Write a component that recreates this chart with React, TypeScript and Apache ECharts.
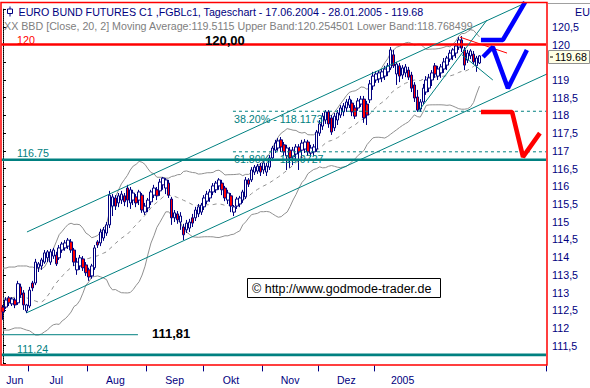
import React, { useEffect, useRef } from "react";
import * as echarts from "echarts";

// ---------- data ----------
// daily candles 17.06.2004 - 28.01.2005: [open, close, low, high]
const ohlc: number[][] = [
  [112.59, 112.45, 112.23, 112.65], [112.59, 112.79, 112.54, 112.87], [112.85, 112.71, 112.62, 112.90], [112.68, 112.82, 112.62, 112.87],
  [112.79, 112.65, 112.56, 112.85], [112.71, 113.25, 112.65, 113.33], [113.16, 112.93, 112.85, 113.25], [112.99, 112.65, 112.51, 113.07],
  [112.48, 112.65, 112.42, 112.68], [112.62, 113.07, 112.56, 113.16], [113.27, 113.13, 113.04, 113.33], [113.27, 113.86, 113.21, 113.95],
  [113.70, 113.81, 113.58, 113.86], [113.75, 113.92, 113.64, 113.98], [113.86, 114.12, 113.81, 114.20], [113.98, 114.15, 113.86, 114.20],
  [113.86, 114.15, 113.78, 114.23], [114.03, 114.20, 113.95, 114.26], [114.06, 113.81, 113.75, 114.15], [113.98, 114.26, 113.92, 114.34],
  [114.20, 114.37, 114.12, 114.43], [114.26, 114.40, 114.18, 114.48], [114.31, 114.48, 114.23, 114.54], [114.43, 114.20, 114.12, 114.51],
  [114.20, 113.86, 113.75, 114.26], [113.64, 113.86, 113.50, 113.98], [113.75, 113.98, 113.64, 114.06], [113.95, 113.70, 113.61, 114.03],
  [113.78, 113.56, 113.47, 113.86], [113.64, 113.44, 113.33, 113.70], [113.47, 113.75, 113.39, 113.81], [113.70, 114.26, 113.64, 114.34],
  [114.43, 114.34, 114.26, 114.48], [114.40, 114.71, 114.31, 114.80], [114.54, 114.77, 114.46, 114.85], [114.68, 114.91, 114.60, 114.99],
  [114.91, 115.75, 114.82, 115.87], [115.44, 115.70, 115.16, 115.78], [115.67, 115.44, 115.33, 115.75], [115.53, 115.73, 115.41, 115.81],
  [115.61, 115.78, 115.50, 115.87], [115.73, 115.56, 115.44, 115.81], [115.95, 115.61, 115.41, 116.04], [115.53, 115.90, 115.36, 115.98],
  [115.61, 115.81, 115.47, 115.90], [115.70, 115.53, 115.41, 115.78], [115.61, 115.84, 115.47, 115.90], [115.75, 115.33, 115.25, 115.81],
  [115.27, 115.44, 115.19, 115.53], [115.39, 115.61, 115.27, 115.67], [115.56, 115.84, 115.47, 115.90], [115.75, 115.95, 115.67, 116.04],
  [115.90, 115.73, 115.61, 115.98], [115.87, 116.12, 115.73, 116.21], [116.04, 116.23, 115.90, 116.26], [115.95, 116.18, 115.78, 116.23],
  [116.09, 115.75, 115.67, 116.18], [115.64, 115.11, 114.91, 115.70], [115.11, 115.25, 114.99, 115.33], [115.22, 115.05, 114.94, 115.30],
  [114.99, 115.16, 114.77, 115.27], [114.85, 114.63, 114.48, 114.94], [114.77, 114.96, 114.68, 115.05], [114.82, 114.99, 114.71, 115.08],
  [115.11, 114.96, 114.85, 115.22], [115.11, 115.33, 115.02, 115.42], [115.22, 115.42, 115.13, 115.50], [115.27, 115.47, 115.19, 115.53],
  [115.42, 115.67, 115.33, 115.75], [115.58, 115.78, 115.50, 115.87], [115.67, 115.84, 115.56, 115.92], [115.84, 116.01, 115.75, 116.09],
  [115.90, 116.09, 115.81, 116.15], [116.01, 116.18, 115.90, 116.23], [116.09, 115.90, 115.75, 116.18], [115.95, 115.67, 115.58, 116.01],
  [115.61, 115.81, 115.50, 115.90], [115.73, 115.44, 115.27, 115.81], [115.27, 115.42, 115.16, 115.47], [115.44, 115.64, 115.36, 115.70],
  [115.50, 115.67, 115.41, 115.73], [115.61, 115.84, 115.53, 115.90], [115.70, 116.18, 115.64, 116.26], [116.18, 116.06, 115.98, 116.23],
  [116.18, 116.46, 116.12, 116.54], [116.40, 116.54, 116.32, 116.60], [116.43, 116.57, 116.35, 116.63], [116.57, 116.40, 116.29, 116.66],
  [116.46, 116.66, 116.35, 116.71], [116.40, 116.57, 116.29, 116.66], [116.54, 116.80, 116.46, 116.88], [116.80, 117.08, 116.71, 117.14],
  [117.02, 117.22, 116.94, 117.31], [117.08, 117.28, 117.00, 117.36], [117.31, 117.11, 116.97, 117.39], [117.17, 116.97, 116.86, 117.25],
  [116.86, 117.08, 116.46, 117.17], [117.02, 116.80, 116.52, 117.11], [116.83, 117.02, 116.60, 117.11], [116.91, 117.11, 116.74, 117.19],
  [117.11, 116.97, 116.46, 117.19], [117.02, 117.22, 116.80, 117.31], [117.05, 117.25, 116.94, 117.33], [117.25, 116.97, 116.86, 117.31],
  [116.94, 117.08, 116.83, 117.17], [116.97, 117.11, 116.86, 117.19], [117.05, 117.53, 116.97, 117.59], [117.50, 117.76, 117.42, 117.87],
  [117.70, 117.98, 117.59, 118.07], [117.87, 118.10, 117.76, 118.15], [118.10, 117.76, 117.65, 118.15], [117.93, 117.53, 117.45, 118.01],
  [117.65, 117.98, 117.56, 118.07], [117.87, 118.07, 117.73, 118.15], [118.01, 118.21, 117.93, 118.29], [118.10, 118.27, 117.98, 118.35],
  [118.21, 118.38, 118.10, 118.46], [118.29, 118.46, 118.21, 118.55], [118.35, 118.10, 117.98, 118.44], [118.21, 117.98, 117.90, 118.29],
  [118.21, 118.41, 118.13, 118.49], [118.32, 118.46, 118.24, 118.55], [118.46, 117.93, 117.79, 118.55], [118.32, 118.01, 117.73, 118.41],
  [118.44, 118.89, 118.35, 119.00], [118.83, 119.11, 118.72, 119.23], [119.00, 119.17, 118.92, 119.25], [119.03, 119.20, 118.92, 119.28],
  [119.06, 119.23, 118.94, 119.31], [119.11, 119.31, 119.00, 119.40], [119.23, 119.40, 119.11, 119.48], [119.34, 119.85, 119.28, 119.93],
  [119.71, 119.40, 119.34, 119.85], [119.17, 119.45, 118.86, 119.51], [119.40, 119.11, 118.94, 119.48], [119.14, 119.34, 119.03, 119.42],
  [119.20, 119.37, 119.08, 119.45], [119.28, 119.08, 119.00, 119.37], [119.14, 118.77, 118.66, 119.23], [118.86, 118.49, 118.38, 118.94],
  [118.52, 118.15, 118.10, 118.72], [118.18, 118.38, 118.10, 118.46], [118.38, 118.77, 118.32, 118.89], [118.66, 119.00, 118.58, 119.11],
  [118.77, 119.06, 118.66, 119.17], [119.00, 119.20, 118.83, 119.28], [119.40, 119.17, 119.06, 119.48], [119.11, 119.31, 119.00, 119.40],
  [119.20, 119.37, 119.06, 119.45], [119.31, 119.51, 119.20, 119.62], [119.42, 119.62, 119.28, 119.68], [119.59, 119.76, 119.51, 119.85],
  [119.68, 119.85, 119.56, 119.90], [119.76, 119.96, 119.62, 120.04], [119.93, 120.13, 119.85, 120.21], [120.13, 119.90, 119.79, 120.24],
  [119.85, 119.42, 119.28, 119.93], [119.56, 119.76, 119.48, 119.85], [119.68, 119.82, 119.59, 119.87], [119.73, 119.51, 119.45, 119.82],
  [119.40, 119.62, 119.23, 119.68], [119.48, 119.68, 119.45, 119.70],
];

// Bollinger band values before a full 20-day window is visible
const earlyUpper = [113.69, 113.69, 113.72, 113.72, 113.72, 113.75, 113.75, 113.75, 113.75, 113.72, 113.72, 113.69, 113.67, 113.67, 113.72, 113.86, 114.03, 114.23, 114.43];
const earlyMid = [112.82, 112.82, 112.85, 112.85, 112.87, 112.87, 112.87, 112.87, 112.85, 112.82, 112.79, 112.76, 112.73, 112.73, 112.79, 112.90, 113.01, 113.16, 113.27];
const earlyLower = [111.94, 111.94, 111.94, 111.97, 112.00, 112.00, 112.00, 111.97, 111.94, 111.92, 111.86, 111.80, 111.80, 111.83, 111.89, 111.94, 112.03, 112.09, 112.11];

const bbPeriod = 20;
const bbDev = 2;

// x axis: month names and the bar slots where they sit
const monthLabels = ["Jun", "Jul", "Aug", "Sep", "Okt", "Nov", "Dez", "2005"];
const monthLabelSlots = [4, 18, 38, 58, 77, 97, 116, 135];
const monthTickSlots = [9, 29, 49, 68, 88, 107, 126];
const totalSlots = 184;

// price levels
const resistance120 = 120;
const support11675 = 116.75;
const support11124 = 111.24;
const low11181 = 111.81;
const fib382 = 118.1173;
const fib618 = 116.9727;
const lastClose = 119.68;

// trend lines: [slot, price] pairs
const upperChannel = [[8.1, 114.71], [176.4, 121.17]];
const lowerChannel = [[8.0, 112.43], [183.8, 119.17]];
const steepSupport = [[140.2, 118.10], [163.5, 120.69]];
const peakDown = [[155.1, 119.71], [165.5, 119.0]];
const redResistance = [[154.4, 120.21], [170.3, 119.76]];

// projected scenarios (arrows)
const blueUp = [[161.5, 120.13], [168.9, 120.13], [176.4, 121.2]];
const blueZigZag = [[162.2, 119.65], [165.5, 119.93], [170.6, 118.77], [177.0, 119.85]];
const redDown = [[161.5, 118.1], [172.0, 118.1], [175.7, 116.83], [181.4, 117.5]];

// ---------- derived ----------
const closes = ohlc.map((r) => r[1]);
function band(i: number) {
  const w = closes.slice(i - bbPeriod + 1, i + 1);
  const m = w.reduce((a, b) => a + b, 0) / w.length;
  const sd = Math.sqrt(w.reduce((a, b) => a + (b - m) * (b - m), 0) / w.length);
  return { m, up: m + bbDev * sd, lo: m - bbDev * sd };
}
const bbUpper = closes.map((_, i) => (i < earlyUpper.length ? earlyUpper[i] : band(i).up));
const bbMid = closes.map((_, i) => (i < earlyMid.length ? earlyMid[i] : band(i).m));
const bbLower = closes.map((_, i) => (i < earlyLower.length ? earlyLower[i] : band(i).lo));

const categories = Array.from({ length: totalSlots }, (_, i) => String(i));

const FONT = "Arial, 'Liberation Sans', sans-serif";
const TEAL = "#008080";
const NAVY = "#000080";

function seg(data: number[][], color: string, width: number, type: any = "solid", z = 5) {
  return {
    type: "line",
    xAxisIndex: 1,
    yAxisIndex: 0,
    data,
    symbol: "none",
    clip: false,
    silent: true,
    z,
    lineStyle: { color, width, type },
  };
}
function hline(v: number, from: number, to: number, color: string, width: number, type: any = "solid", z = 4) {
  return seg([[from, v], [to, v]], color, width, type, z);
}
function txt(text: string, x: number, y: number, fill: string, size = 10.7, weight = "normal") {
  return {
    type: "text",
    x,
    y,
    z: 100,
    silent: true,
    style: {
      text,
      fill,
      font: `${weight} ${size}px ${FONT}`,
      textAlign: "left",
      textVerticalAlign: "middle",
      align: "left",
      verticalAlign: "middle",
    },
  };
}

export default function App() {
  const ref = useRef<HTMLDivElement>(null);
  useEffect(() => {
    document.body.style.margin = "0";
    const chart = echarts.init(ref.current!, null, { renderer: "svg" });
    const lastSlot = totalSlots - 0.5;
    chart.setOption({
      animation: false,
      backgroundColor: "#ffffff",
      grid: { left: 1.5, right: 43.9, top: 9.14, bottom: 24.6, containLabel: false },
      xAxis: [
        {
          type: "category",
          data: categories,
          boundaryGap: true,
          offset: 2,
          axisLine: { show: false },
          axisTick: {
            show: true,
            length: 6,
            interval: (idx: number) => monthTickSlots.includes(idx),
            lineStyle: { color: NAVY, width: 1 },
          },
          axisLabel: {
            interval: (idx: number) => monthLabelSlots.includes(idx),
            formatter: (_v: string, idx: number) => {
              const k = monthLabelSlots.indexOf(idx);
              return k >= 0 ? monthLabels[k] : "";
            },
            color: NAVY,
            fontSize: 10.5,
            fontFamily: FONT,
            margin: 9,
          },
          splitLine: { show: false },
        },
        { type: "value", min: -0.5, max: lastSlot, show: false, position: "top" },
      ],
      yAxis: {
        type: "value",
        position: "right",
        min: 111,
        max: 121,
        interval: 0.5,
        offset: 3,
        axisLine: { show: true, lineStyle: { color: "#000", type: "dotted", width: 1 } },
        axisTick: { show: true, length: 3, lineStyle: { color: "#000" } },
        axisLabel: {
          margin: 3,
          color: NAVY,
          fontSize: 10.7,
          fontFamily: FONT,
          // 119,5 sits under the last-price box
          formatter: (v: number) =>
            v <= 111 || v >= 121 || v === 119.5 ? "" : String(v).replace(".", ","),
        },
        splitLine: { show: false },
      },
      series: [
        hline(resistance120, -0.5, lastSlot, "#ff0000", 2.6),
        hline(support11675, -0.5, lastSlot, TEAL, 2.6),
        hline(support11124, -0.5, lastSlot, TEAL, 2.6),
        hline(low11181, -0.5, 45.6, TEAL, 1),
        hline(fib382, 77.7, lastSlot, TEAL, 1, [3, 3]),
        hline(fib618, 77.7, lastSlot, TEAL, 1, [3, 3]),
        {
          type: "line",
          data: bbUpper,
          symbol: "none",
          silent: true,
          z: 2,
          lineStyle: { color: "#909090", width: 1 },
        },
        {
          type: "line",
          data: bbLower,
          symbol: "none",
          silent: true,
          z: 2,
          lineStyle: { color: "#909090", width: 1 },
        },
        {
          type: "line",
          data: bbMid,
          symbol: "none",
          silent: true,
          z: 2,
          lineStyle: { color: "#909090", width: 1, type: [4, 4] },
        },
        {
          type: "candlestick",
          data: ohlc,
          barWidth: 3,
          silent: true,
          z: 3,
          itemStyle: {
            color: "#ffffff",
            color0: "#ff0000",
            borderColor: NAVY,
            borderColor0: NAVY,
            borderWidth: 1,
          },
        },
        seg(upperChannel, TEAL, 1),
        seg(lowerChannel, TEAL, 1),
        seg(steepSupport, TEAL, 1),
        seg(peakDown, TEAL, 1),
        seg(redResistance, "#ff0000", 1),
        seg(blueUp, "#0000ff", 4.5, "solid", 8),
        seg(blueZigZag, "#0000ff", 4.5, "solid", 8),
        seg(redDown, "#ff0000", 4.5, "solid", 8),
      ],
      graphic: [
        // frame
        { type: "rect", z: 90, silent: true, shape: { x: 1, y: 2.5, width: 546, height: 362.5 }, style: { fill: "none", stroke: "#ff0000", lineWidth: 1.5 } },
        // header icon
        { type: "line", z: 100, silent: true, shape: { x1: 10, y1: 6.5, x2: 10, y2: 16.5 }, style: { stroke: NAVY, lineWidth: 1 } },
        { type: "rect", z: 101, silent: true, shape: { x: 7.5, y: 9, width: 5, height: 4.5 }, style: { fill: "#fff", stroke: NAVY, lineWidth: 1 } },
        txt("EURO BUND FUTURES C1 ,FGBLc1, Tageschart - 17.06.2004 - 28.01.2005 - " + lastClose.toFixed(2), 18.5, 11.5, NAVY),
        txt(
          "XX BBD [Close, 20, 2] Moving Average:119.5115 Upper Band:120.254501 Lower Band:118.768499",
          4,
          25.5,
          "#808080"
        ),
        txt(String(resistance120), 17, 40, "#ff0000"),
        txt(resistance120.toFixed(2).replace(".", ","), 205, 40, "#000", 13, "bold"),
        txt(support11675.toFixed(2), 17, 152.5, TEAL),
        txt(support11124.toFixed(2), 17, 348.5, TEAL),
        txt(low11181.toFixed(2).replace(".", ","), 152, 333.5, "#000", 13, "bold"),
        txt("38.20% - " + fib382.toFixed(4), 234, 119, TEAL),
        txt("61.80% - " + fib618.toFixed(4), 234, 159, TEAL),
        // copyright box
        { type: "rect", z: 95, silent: true, shape: { x: 247.5, y: 278.5, width: 193, height: 19 }, style: { fill: "#fff", stroke: "#000", lineWidth: 1 } },
        txt("\u00a9 http://www.godmode-trader.de", 252, 288.5, "#000", 12.5),
        // last price box on the axis
        { type: "rect", z: 98, silent: true, shape: { x: 548.5, y: 50.5, width: 41, height: 13 }, style: { fill: "#ffffe6", stroke: "#909090", lineWidth: 1 } },
        { type: "line", z: 100, silent: true, shape: { x1: 550, y1: 57, x2: 553, y2: 57 }, style: { stroke: "#000", lineWidth: 1 } },
        txt(lastClose.toFixed(2), 555, 57, "#000"),
        // right header cell
        { type: "line", z: 100, silent: true, shape: { x1: 548, y1: 3.5, x2: 590, y2: 3.5 }, style: { stroke: "#a0a0a0", lineWidth: 1 } },
        txt("EU", 575, 12, NAVY),
      ],
    });
    return () => chart.dispose();
  }, []);
  return <div ref={ref} style={{ width: 590, height: 388 }} />;
}
